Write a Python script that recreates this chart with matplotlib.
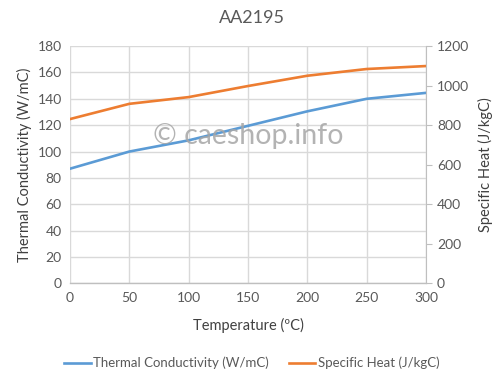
import matplotlib
matplotlib.use("Agg")
import matplotlib.pyplot as plt

# data
temperature = [0, 50, 100, 150, 200, 250, 300]
conductivity = [87, 100, 108.5, 119.5, 130.5, 140, 144.5]
specific_heat = [831, 908, 942, 998, 1050, 1084, 1099]

blue = '#5B9BD5'
orange = '#ED7D31'
text_gray = '#595959'
grid_gray = '#D9D9D9'

plt.rcParams['font.family'] = ['Lato', 'DejaVu Sans']

fig = plt.figure(figsize=(5.04, 3.84), dpi=100)
ax = fig.add_axes([0.139, 0.262, 0.706, 0.618])
ax2 = ax.twinx()

ax.plot(temperature, conductivity, color=blue, lw=1.9, label='Thermal Conductivity (W/mC)')
ax2.plot(temperature, specific_heat, color=orange, lw=1.9, label='Specific Heat (J/kgC)')

ax.set_xlim(0, 300)
ax.set_ylim(0, 180)
ax2.set_ylim(0, 1200)
ax.set_xticks(range(0, 301, 50))
ax.set_yticks(range(0, 181, 20))
ax2.set_yticks(range(0, 1201, 200))

ax.grid(True, color=grid_gray, lw=1)
ax.set_axisbelow(True)

for a in (ax, ax2):
    for s in a.spines.values():
        s.set_visible(False)
    a.tick_params(colors=text_gray, labelsize=10, length=0, pad=6)
ax.spines['bottom'].set_visible(True)
ax.spines['bottom'].set_color('#BFBFBF')
ax.spines['bottom'].set_linewidth(1)
ax2.spines['right'].set_visible(True)
ax2.spines['right'].set_color('#BFBFBF')
ax2.tick_params(axis='y', length=4, color='#BFBFBF', pad=4)

ax.set_xlabel('Temperature (ºC)', color='#404040', fontsize=10.5, labelpad=10)
ax.set_ylabel('Thermal Conductivity (W/mC)', color='#404040', fontsize=10.5, labelpad=4)
ax2.set_ylabel('Specific Heat (J/kgC)', color='#404040', fontsize=10.5, labelpad=6)

fig.text(0.5, 0.953, 'AA2195', ha='center', va='center', fontsize=13, color=text_gray)

ax.text(0.5, 0.62, '© caeshop.info', transform=ax.transAxes, ha='center', va='center',
        fontsize=20.5, color='#A6A6A6', alpha=0.85, zorder=5)

h1, l1 = ax.get_legend_handles_labels()
h2, l2 = ax2.get_legend_handles_labels()
fig.legend(h1 + h2, l1 + l2, loc='center', bbox_to_anchor=(0.5, 0.055), ncol=2,
           frameon=False, fontsize=9.5, labelcolor=text_gray, handlelength=2.0,
           handletextpad=0.2, columnspacing=1.5)

fig.savefig('out.png', dpi=100)
